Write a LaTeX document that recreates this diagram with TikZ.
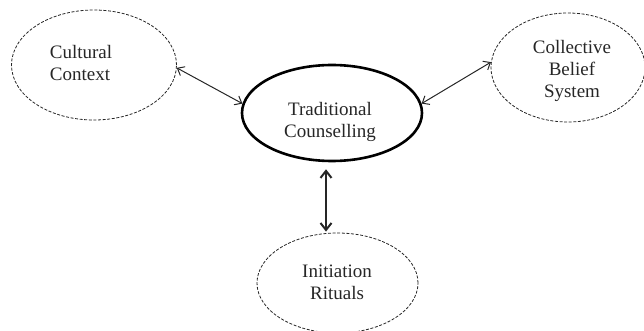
\documentclass[tikz,border=0pt]{standalone}
\usepackage{fontspec}
\setmainfont{Liberation Serif}
\usetikzlibrary{shapes.geometric,arrows.meta}
\begin{document}
\begin{tikzpicture}[x=1pt,y=-1pt,
  bubble/.style={ellipse,draw=black!85,line width=0.8pt,dash pattern=on 3pt off 1.6pt,inner sep=0pt},
  corebubble/.style={ellipse,draw=black,line width=2.6pt,inner sep=0pt},
  lbl/.style={align=center,inner sep=0pt,text=black!85,font=\fontsize{19}{22}\selectfont},
  link/.style={{Straight Barb[length=6pt,width=10pt]}-{Straight Barb[length=6pt,width=10pt]},line width=1pt,black!85},
  thicklink/.style={{Straight Barb[length=7pt,width=11pt]}-{Straight Barb[length=7pt,width=11pt]},line width=2pt,black!85}]
\useasboundingbox (0,0) rectangle (644,331);
\node[bubble,minimum width=165pt,minimum height=110pt] (cc) at (94,65) {};
\node[corebubble,minimum width=180pt,minimum height=96pt] (tc) at (332,113) {};
\node[bubble,minimum width=154pt,minimum height=109pt] (cb) at (568,67.5) {};
\node[bubble,minimum width=161pt,minimum height=100pt] (ir) at (337.5,283) {};
\node[lbl,align=left] (cct) at (81,63) {Cultural\\Context};
\node[lbl] (tct) at (330,122) {Traditional\\Counselling};
\node[lbl] (cbt) at (572,71) {Collective\\Belief\\System};
\node[lbl] (irt) at (337,282) {Initiation\\Rituals};
\draw[link] (cc.-2) -- (tc.174);
\draw[link] (tc.6) -- (cb.176);
\draw[thicklink] ([xshift=-6pt,yshift=-7pt]tc.south) -- ([xshift=-11.5pt,yshift=1pt]ir.north);
\end{tikzpicture}
\end{document}
